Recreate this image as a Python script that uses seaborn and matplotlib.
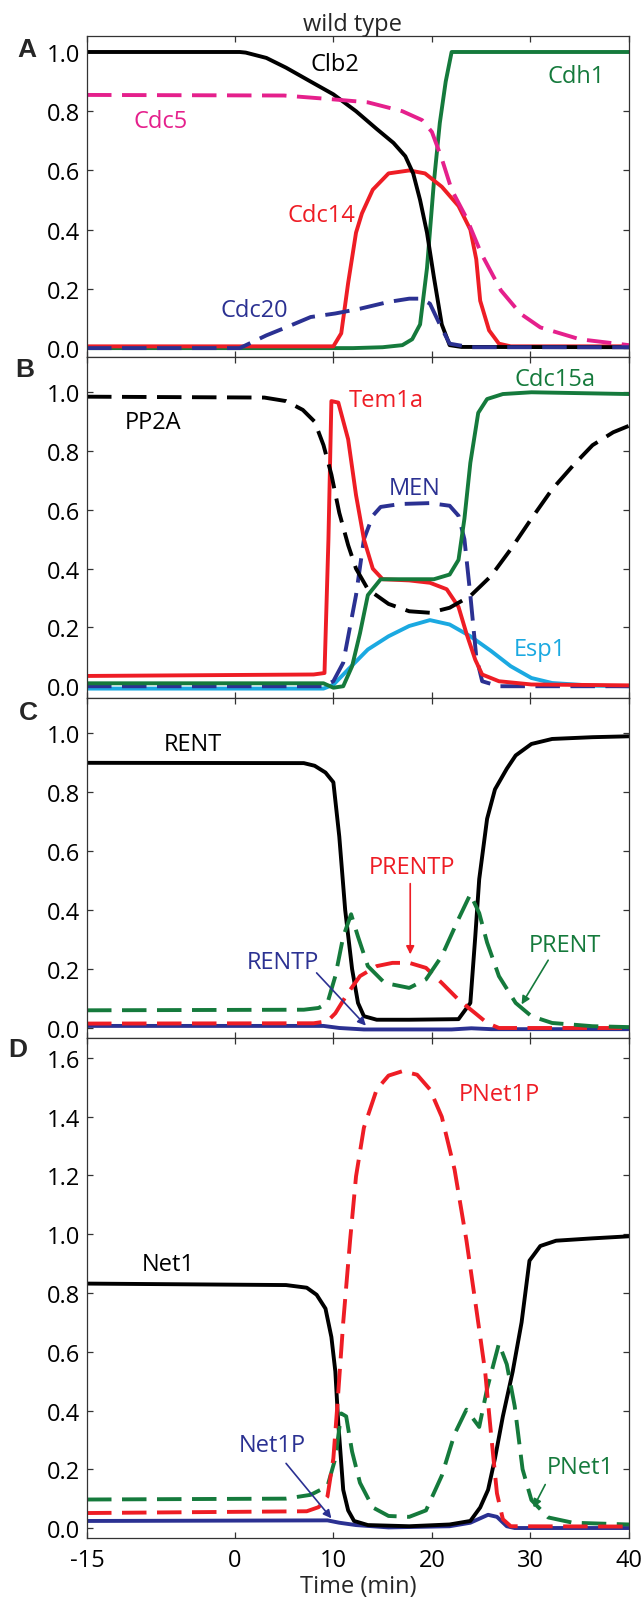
import numpy as np
import pandas as pd
import matplotlib
matplotlib.use("Agg")
import matplotlib.pyplot as plt
import seaborn as sns

# ---------------- data ----------------
# Panel A
t_clb2 = [-15, 0.5, 1.1, 3.2, 5.2, 7.7, 10, 12.3, 14.4, 16.1, 17.3, 18.1, 18.8, 19.5, 20.2, 21, 21.8, 23, 40]
clb2 = [1.0, 1.0, 0.998, 0.98, 0.947, 0.90, 0.857, 0.80, 0.74, 0.693, 0.648, 0.59, 0.50, 0.39, 0.24, 0.08, 0.01, 0.004, 0.003]
t_cdc5 = [-15, 5, 10, 13.5, 17, 19, 20, 21, 22, 23.5, 25, 27, 29, 31, 35, 40]
cdc5 = [0.855, 0.853, 0.84, 0.83, 0.80, 0.77, 0.73, 0.64, 0.535, 0.44, 0.32, 0.195, 0.116, 0.07, 0.03, 0.01]
t_cdc14 = [-15, 10, 10.8, 11.5, 12.3, 12.9, 14, 15.6, 17.7, 19.3, 21, 22.7, 23.9, 24.5, 24.9, 25.8, 26.8, 28, 40]
cdc14 = [0.006, 0.006, 0.05, 0.22, 0.39, 0.455, 0.535, 0.59, 0.60, 0.59, 0.545, 0.48, 0.40, 0.30, 0.16, 0.06, 0.015, 0.006, 0.006]
t_cdh1 = [-15, 12, 15, 17, 18, 18.8, 19.5, 20.2, 20.8, 21.4, 22, 40]
cdh1 = [0.0, 0.0, 0.003, 0.01, 0.03, 0.08, 0.27, 0.56, 0.76, 0.90, 1.0, 1.0]
t_cdc20 = [-15, 0.5, 3.2, 5.2, 7.7, 10.2, 12.7, 15.6, 17.7, 18.9, 19.8, 20.8, 21.8, 23.9, 40]
cdc20 = [0.0, 0.0, 0.043, 0.07, 0.105, 0.117, 0.133, 0.156, 0.167, 0.167, 0.15, 0.08, 0.015, 0.003, 0.003]

# Panel B
t_pp2a = [-15, 3, 5.2, 6.9, 8.1, 9, 9.8, 10.6, 11.5, 12.3, 13.5, 15.6, 17.7, 19.8, 21.8, 23.9, 26, 28, 30.1, 32.2, 34.3, 36.3, 38.4, 40]
pp2a = [0.985, 0.982, 0.97, 0.94, 0.90, 0.82, 0.72, 0.59, 0.48, 0.40, 0.33, 0.28, 0.255, 0.25, 0.267, 0.307, 0.375, 0.466, 0.57, 0.67, 0.75, 0.82, 0.864, 0.886]
t_tem1a = [-15, 8, 9.1, 9.5, 9.8, 10.5, 11.5, 12.3, 13.1, 14, 15, 17.7, 19.8, 21.5, 22.7, 23.5, 24.4, 25.1, 26.8, 30.1, 40]
tem1a = [0.035, 0.04, 0.045, 0.50, 0.97, 0.965, 0.84, 0.65, 0.50, 0.40, 0.364, 0.36, 0.352, 0.33, 0.27, 0.18, 0.09, 0.04, 0.017, 0.006, 0.003]
t_cdc15a = [-15, 9, 10, 11, 11.9, 12.7, 13.5, 14.8, 16.4, 20.2, 21.8, 22.7, 23.3, 23.9, 24.7, 25.6, 27.2, 30.1, 40]
cdc15a = [0.01, 0.01, -0.005, 0.0, 0.068, 0.18, 0.31, 0.364, 0.364, 0.364, 0.38, 0.43, 0.57, 0.76, 0.93, 0.977, 0.994, 1.0, 0.994]
t_men = [-15, 9, 10, 11, 12.3, 13.1, 14, 14.8, 16.8, 19.8, 21.8, 22.7, 23.3, 23.9, 24.5, 25.1, 26.8, 40]
men = [0.0, 0.0, 0.017, 0.08, 0.31, 0.50, 0.58, 0.61, 0.62, 0.623, 0.614, 0.58, 0.50, 0.31, 0.10, 0.017, 0.0, 0.0]
t_esp1 = [-15, 9, 10, 11.5, 13.5, 15.6, 17.7, 19.8, 21.8, 23.9, 26, 28, 30.1, 32.2, 36.3, 40]
esp1 = [-0.008, -0.008, 0.005, 0.057, 0.125, 0.17, 0.205, 0.225, 0.21, 0.17, 0.12, 0.068, 0.028, 0.011, 0.002, 0.0]

# Panel C
t_rent = [-15, 7, 8.1, 9.2, 10, 10.6, 11.2, 11.9, 12.5, 13.1, 14.4, 17.7, 22.7, 23.9, 24.4, 24.8, 25.6, 26.4, 27.6, 28.5, 30.1, 32.2, 36.3, 40]
rent = [0.90, 0.899, 0.89, 0.867, 0.834, 0.65, 0.40, 0.20, 0.085, 0.04, 0.028, 0.028, 0.03, 0.085, 0.31, 0.505, 0.71, 0.81, 0.88, 0.925, 0.964, 0.981, 0.987, 0.99]
t_prent = [-15, 7, 8.5, 9.4, 10.2, 11, 11.8, 12.5, 13.5, 15.2, 17.7, 19.4, 21, 22.7, 23.9, 24.8, 25.6, 26.8, 28.5, 30.1, 32.2, 36.3, 40]
prent = [0.06, 0.062, 0.068, 0.085, 0.176, 0.31, 0.386, 0.31, 0.21, 0.153, 0.136, 0.165, 0.244, 0.37, 0.454, 0.39, 0.29, 0.176, 0.085, 0.04, 0.017, 0.006, 0.003]
t_prentp = [-15, 8, 9.4, 10.2, 11.5, 12.7, 14.4, 16.0, 17.7, 19.4, 21, 22.7, 24.4, 25.6, 26.8, 40]
prentp = [0.015, 0.016, 0.023, 0.05, 0.12, 0.176, 0.21, 0.221, 0.221, 0.204, 0.153, 0.096, 0.05, 0.017, 0.0, 0.0]
t_rentp = [-15, 9, 10.6, 13.1, 22, 24, 26, 40]
rentp = [0.007, 0.007, 0.0, -0.005, -0.005, -0.001, -0.004, -0.004]

# Panel D
t_net1 = [-15, 5.2, 7.3, 8.3, 9.2, 9.8, 10.2, 10.5, 11, 11.5, 12.1, 13.5, 17.7, 21.8, 23.9, 24.9, 25.7, 26.4, 27.2, 28.2, 29.1, 29.9, 31, 32.6, 36.3, 40]
net1 = [0.832, 0.827, 0.818, 0.794, 0.747, 0.65, 0.533, 0.356, 0.13, 0.06, 0.024, 0.01, 0.006, 0.012, 0.024, 0.07, 0.13, 0.237, 0.38, 0.533, 0.70, 0.91, 0.96, 0.978, 0.986, 0.993]
t_pnet1p = [-15, 7.3, 8.5, 9.4, 10, 10.4, 11, 11.7, 12.3, 13.1, 14.4, 15.6, 17, 18.5, 19.8, 21, 22.3, 23.5, 24.5, 25.4, 26, 26.6, 27.2, 28, 40]
pnet1p = [0.051, 0.057, 0.071, 0.107, 0.237, 0.415, 0.70, 0.98, 1.197, 1.363, 1.493, 1.54, 1.555, 1.543, 1.493, 1.40, 1.22, 0.98, 0.747, 0.533, 0.32, 0.118, 0.03, 0.006, 0.005]
t_pnet1 = [-15, 5.2, 7.7, 9.4, 10.2, 10.8, 11.3, 11.9, 12.7, 14, 15.6, 17.7, 19.4, 21, 22.3, 23.5, 24.8, 25.6, 26.8, 27.6, 28.4, 29.2, 30.1, 31.8, 34.3, 40]
pnet1 = [0.097, 0.10, 0.113, 0.142, 0.237, 0.39, 0.38, 0.26, 0.154, 0.07, 0.041, 0.038, 0.06, 0.178, 0.32, 0.403, 0.344, 0.474, 0.628, 0.557, 0.415, 0.20, 0.095, 0.036, 0.018, 0.012]
t_net1p = [-15, 9.4, 10.6, 12.3, 15.6, 21.8, 23.9, 25.7, 26.6, 27.6, 28.4, 40]
net1p = [0.024, 0.026, 0.018, 0.01, 0.002, 0.006, 0.018, 0.045, 0.038, 0.006, 0.0, 0.0]

x_ticks = [-15, 0, 10, 20, 30, 40]
x_ticklabels = ["-15", "0", "10", "20", "30", "40"]
panel_letters = ["A", "B", "C", "D"]

# ---------------- style ----------------
sns.set_theme(style="ticks")
plt.rcParams["font.family"] = ["Open Sans", "DejaVu Sans"]
plt.rcParams["axes.edgecolor"] = "#333333"
plt.rcParams["axes.linewidth"] = 0.9

BLACK = "#000000"
MAGENTA = "#E5208C"
RED = "#EE1D25"
GREEN = "#157A3C"
NAVY = "#2B3192"
CYAN = "#1BA9E1"
LW = 2.8
DASH = (0, (6.3, 2.7))
FS = 17

W, H = 642, 1606
fig = plt.figure(figsize=(W / 100, H / 100), dpi=100)

def add_axes(top, bottom):
    left, right = 87, 629
    return fig.add_axes([left / W, 1 - bottom / H, (right - left) / W, (bottom - top) / H])

axA = add_axes(37, 358)
axB = add_axes(358, 699)
axC = add_axes(699, 1039)
axD = add_axes(1039, 1539)

def line(ax, t, v, color, dashed=False, lw=LW):
    df = pd.DataFrame({"t": t, "v": v})
    kw = dict(linestyle=DASH) if dashed else {}
    sns.lineplot(data=df, x="t", y="v", ax=ax, color=color, lw=lw,
                 estimator=None, sort=False, legend=False, **kw)

# Panel A
line(axA, t_cdh1, cdh1, GREEN)
line(axA, t_cdc14, cdc14, RED)
line(axA, t_clb2, clb2, BLACK)
line(axA, t_cdc5, cdc5, MAGENTA, dashed=True)
line(axA, t_cdc20, cdc20, NAVY, dashed=True)
axA.set_ylim(-0.03, 1.054)
axA.set_yticks(np.arange(0, 1.01, 0.2))

# Panel B
line(axB, t_esp1, esp1, CYAN)
line(axB, t_men, men, NAVY, dashed=True)
line(axB, t_tem1a, tem1a, RED)
line(axB, t_cdc15a, cdc15a, GREEN)
line(axB, t_pp2a, pp2a, BLACK, dashed=True)
axB.set_ylim(-0.04, 1.12)
axB.set_yticks(np.arange(0, 1.01, 0.2))

# Panel C
line(axC, t_rent, rent, BLACK)
line(axC, t_rentp, rentp, NAVY)
line(axC, t_prentp, prentp, RED, dashed=True)
line(axC, t_prent, prent, GREEN, dashed=True)
axC.set_ylim(-0.034, 1.12)
axC.set_yticks(np.arange(0, 1.01, 0.2))

# Panel D
line(axD, t_net1p, net1p, NAVY)
line(axD, t_net1, net1, BLACK)
line(axD, t_pnet1, pnet1, GREEN, dashed=True)
line(axD, t_pnet1p, pnet1p, RED, dashed=True)
axD.set_ylim(-0.034, 1.668)
axD.set_yticks(np.arange(0, 1.61, 0.2))

for ax in (axA, axB, axC, axD):
    ax.set_xlim(-15, 40)
    ax.set_xticks(x_ticks)
    ax.set_xlabel("")
    ax.set_ylabel("")
    ax.yaxis.set_major_formatter(matplotlib.ticker.FormatStrFormatter("%.1f"))
    ax.tick_params(direction="in", length=4, width=0.9, top=True, right=True,
                   labelsize=FS, colors="#333333", labelcolor="black")
    ax.tick_params(axis="y", pad=5)
    for s in ax.spines.values():
        s.set_visible(True)
    if ax is not axD:
        ax.tick_params(labelbottom=False)

axD.set_xticklabels(x_ticklabels)
axD.tick_params(axis="x", pad=7)
axD.set_xlabel("Time (min)", fontsize=FS, labelpad=2)

axA.set_title("wild type", fontsize=FS, pad=3, x=0.489)

# panel letters
for letter, (px, py) in zip(panel_letters, [(17, 50), (15, 370), (19, 713), (8, 1050)]):
    fig.text(px / W, 1 - py / H, letter, fontsize=19, fontweight="bold",
             family=["Liberation Sans", "DejaVu Sans"], ha="left", va="center")

def lab(ax, x, y, s, c):
    ax.text(x, y, s, color=c, fontsize=FS, ha="center", va="center")

lab(axA, 10.2, 0.96, "Clb2", BLACK)
lab(axA, 34.6, 0.92, "Cdh1", GREEN)
lab(axA, -7.5, 0.766, "Cdc5", MAGENTA)
lab(axA, 8.8, 0.45, "Cdc14", RED)
lab(axA, 2.0, 0.128, "Cdc20", NAVY)

lab(axB, 15.4, 0.975, "Tem1a", RED)
lab(axB, 32.5, 1.044, "Cdc15a", GREEN)
lab(axB, -8.3, 0.90, "PP2A", BLACK)
lab(axB, 18.2, 0.676, "MEN", NAVY)
lab(axB, 31.0, 0.125, "Esp1", CYAN)

lab(axC, -4.3, 0.964, "RENT", BLACK)
lab(axC, 18.0, 0.545, "PRENTP", RED)
lab(axC, 33.5, 0.28, "PRENT", GREEN)
lab(axC, 4.9, 0.224, "RENTP", NAVY)

lab(axD, -6.8, 0.90, "Net1", BLACK)
lab(axD, 26.8, 1.476, "PNet1P", RED)
lab(axD, 3.8, 0.284, "Net1P", NAVY)
lab(axD, 35.1, 0.207, "PNet1", GREEN)

def arrow(ax, xy_from, xy_to, c):
    ax.annotate("", xy=xy_to, xytext=xy_from,
                arrowprops=dict(arrowstyle="-|>", color=c, lw=1.2, mutation_scale=12,
                                shrinkA=0, shrinkB=0))

arrow(axC, (17.8, 0.49), (17.8, 0.25), RED)
arrow(axC, (8.3, 0.187), (13.3, 0.008), NAVY)
arrow(axC, (31.8, 0.23), (29.1, 0.08), GREEN)
arrow(axD, (5.2, 0.22), (9.8, 0.033), NAVY)
arrow(axD, (31.5, 0.148), (30.3, 0.07), GREEN)

fig.savefig("out.png", dpi=100)
